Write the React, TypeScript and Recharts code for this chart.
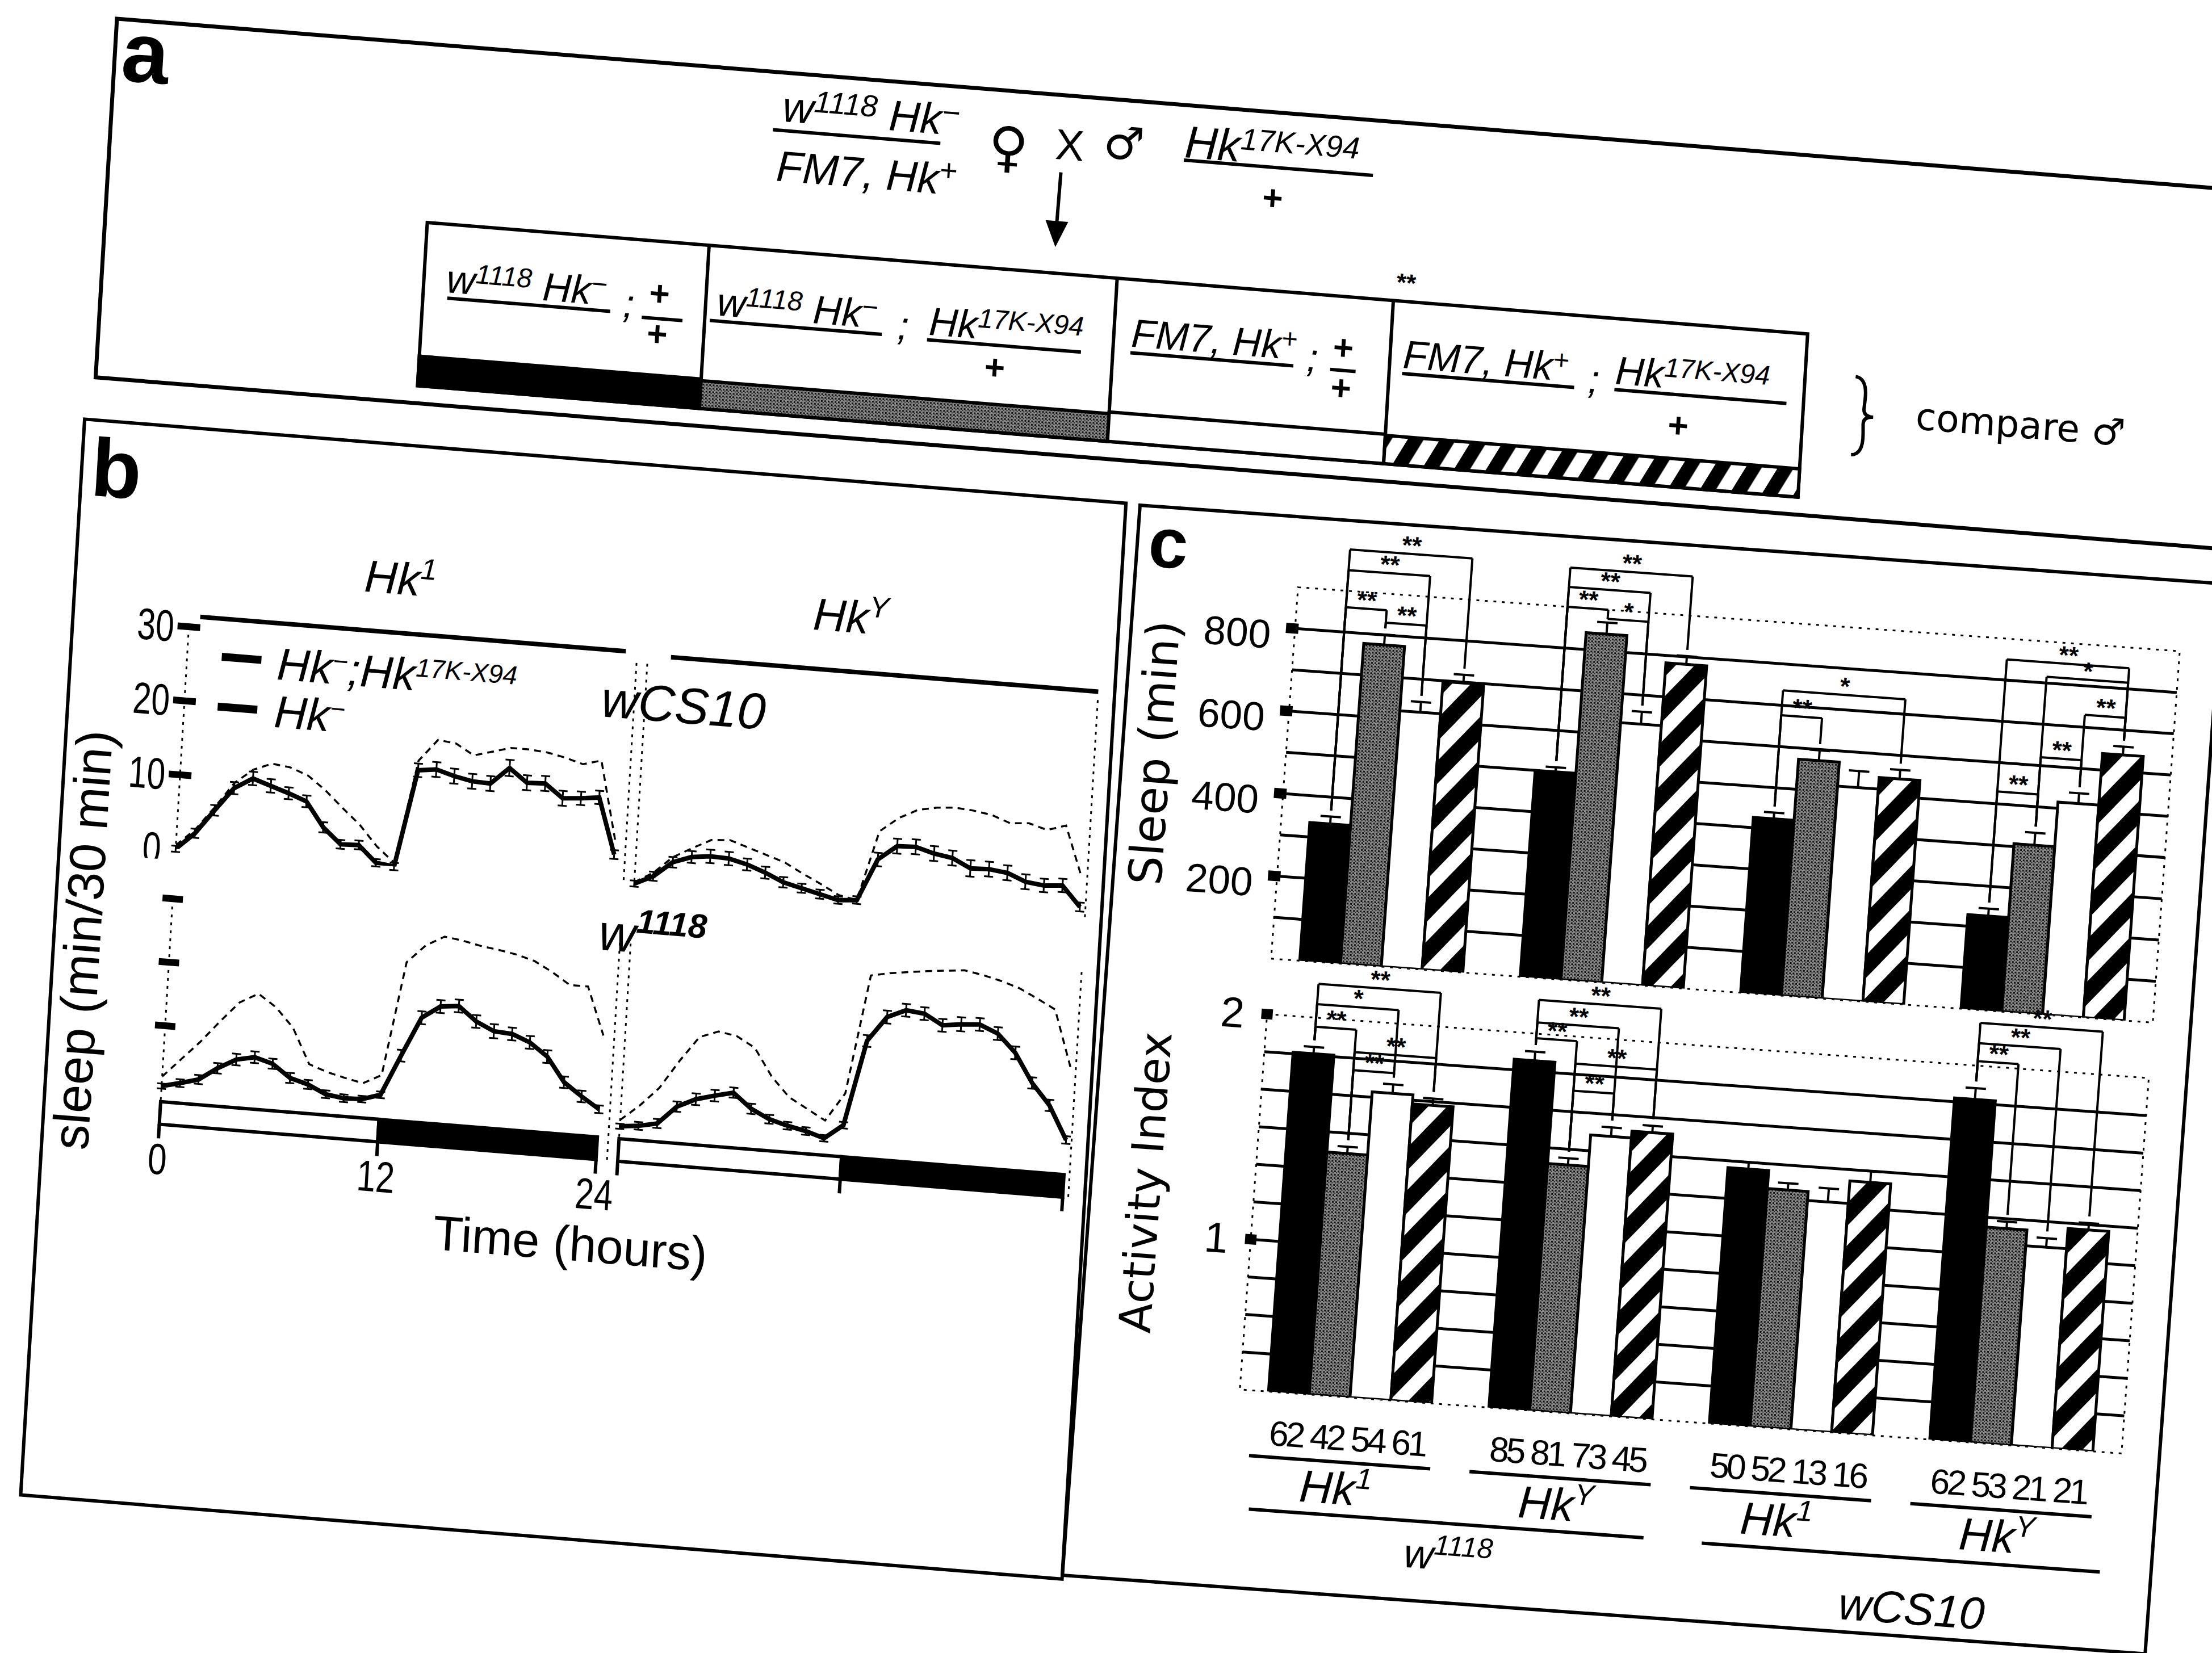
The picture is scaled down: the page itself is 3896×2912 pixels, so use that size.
import React from "react";
import {
  LineChart, Line, XAxis, YAxis, ReferenceArea, ErrorBar,
  BarChart, Bar, CartesianGrid, ReferenceLine, ReferenceDot, LabelList,
} from "recharts";

const FONT = "'Liberation Sans', Arial, Helvetica, sans-serif";
const WIDE = "'DejaVu Sans', Verdana, sans-serif";

// ---------------- panel b : sleep traces (min / 30 min), hourly reads ----------------
const HOURS = [0, 1, 2, 3, 4, 5, 6, 7, 8, 9, 10, 11, 12, 13, 14, 15, 16, 17, 18, 19, 20, 21, 22, 23, 24];
const WCS_HK1_HKMINUS = [0, 2.3, 5.6, 8.8, 10.3, 9.5, 8.7, 7.8, 4.5, 2.4, 2.5, 0.3, 0, 13.2, 13.5, 12.8, 12.3, 12.2, 14.5, 12.7, 12.8, 11.0, 11.2, 11.5, 4];
const WCS_HK1_RESCUE = [0.5, 2.8, 6, 9.5, 11.5, 12.5, 12.2, 11.3, 9.5, 7.3, 5.2, 2.5, 0.5, 14.5, 17.5, 17.2, 15.8, 16.5, 17.2, 17.2, 17, 16.5, 15.8, 16.5, 6];
const WCS_HKY_HKMINUS = [0.3, 1.5, 3.6, 4.5, 4.8, 4.7, 4.1, 3.2, 2.1, 1.5, 0.9, 0.3, 0.5, 6.2, 8.2, 8.3, 7.6, 7.2, 6, 6.1, 5.8, 4.8, 4.5, 4.7, 2];
const WCS_HKY_RESCUE = [0.5, 2, 4.3, 5.7, 7, 7.2, 6.4, 5.6, 4.8, 3.5, 2.3, 1, 0.5, 10, 12, 13.3, 13.8, 14, 13.8, 13.4, 12.5, 12.7, 12, 12.8, 6];
const W_HK1_HKMINUS = [0.5, 1.2, 2.0, 4.0, 5.6, 6.2, 5.4, 3.4, 2.6, 1.3, 0.9, 1.0, 1.9, 8.3, 14.5, 16.5, 16.8, 14.6, 13.3, 13.1, 12, 10, 6.2, 4.2, 2.4];
const W_HK1_RESCUE = [2, 5, 8, 11.4, 14.6, 16.2, 14.3, 11.3, 5.8, 4.8, 4.1, 3.5, 5, 23, 25.9, 27.5, 27.1, 26.5, 26.1, 25.6, 24.8, 23.3, 21.5, 21.5, 14];
const W_HKY_HKMINUS = [0, 0.3, 0.9, 3.8, 5.2, 6.0, 6.7, 4.4, 3.0, 2.2, 1.6, 0.7, 3, 16.5, 20.5, 21.8, 21.5, 19.9, 20.3, 20.5, 19.3, 16.5, 12, 8.7, 3.5];
const W_HKY_RESCUE = [1, 3.5, 6.5, 11, 15, 16.1, 15.6, 14, 9.7, 6.7, 5.1, 3.5, 8, 26.8, 27.4, 27.8, 28.2, 28.5, 28.8, 28.3, 27.6, 26.7, 25.3, 23.8, 15];
const TRACE_SEM = [0.4, 0.6, 0.7, 0.8, 0.9, 0.9, 0.8, 0.8, 0.7, 0.6, 0.6, 0.5, 0.5, 0.9, 1.0, 1.0, 1.0, 1.0, 1.1, 1.0, 1.0, 1.0, 0.9, 0.9, 0.6];
const HOUR_TICKS = [0, 12, 24];
const TOP_TICKS = [0, 10, 20, 30];
const LOW_TICKS = [10, 20, 30];
const LD_TOP = -1.96;
const LD_BOTTOM = -5.5;

// ---------------- panel c : bars ----------------
const GROUPS = ["w1118 Hk1", "w1118 HkY", "wCS10 Hk1", "wCS10 HkY"];
const GROUP_POS = [0.5, 1.5, 2.5, 3.5];
const GROUP_ALLELE = ["1", "Y", "1", "Y"];
const SLEEP_HKMINUS = [335, 495, 425, 228];
const SLEEP_RESCUE = [776, 841, 573, 407];
const SLEEP_FM7 = [620, 630, 515, 515];
const SLEEP_FM7_RESCUE = [698, 782, 543, 640];
const SLEEP_SEM_HKMINUS = [18, 16, 15, 18];
const SLEEP_SEM_RESCUE = [25, 28, 25, 30];
const SLEEP_SEM_FM7 = [25, 30, 40, 25];
const SLEEP_SEM_FM7_RESCUE = [20, 20, 22, 20];
const ACT_HKMINUS = [1.84, 1.88, 1.47, 1.85];
const ACT_RESCUE = [1.41, 1.43, 1.39, 1.29];
const ACT_FM7 = [1.69, 1.57, 1.35, 1.22];
const ACT_FM7_RESCUE = [1.65, 1.6, 1.45, 1.31];
const ACT_SEM_HKMINUS = [0.03, 0.04, 0.03, 0.05];
const ACT_SEM_RESCUE = [0.03, 0.03, 0.03, 0.03];
const ACT_SEM_FM7 = [0.04, 0.04, 0.06, 0.04];
const ACT_SEM_FM7_RESCUE = [0.03, 0.03, 0.05, 0.03];
const N_HKMINUS = [62, 85, 50, 62];
const N_RESCUE = [42, 81, 52, 53];
const N_FM7 = [54, 73, 13, 21];
const N_FM7_RESCUE = [61, 45, 16, 21];
const SLEEP_TICKS = [100, 200, 300, 400, 500, 600, 700, 800];
const ACT_TICKS = [0.5, 0.6667, 0.8333, 1, 1.1667, 1.3333, 1.5, 1.6667, 1.8333, 2];
const ACT_GRID = [0.5, 0.6667, 0.8333, 1, 1.1667, 1.3333, 1.5, 1.6667, 1.8333];

// significance brackets: group, bar a, bar b, level, text
const SLEEP_BRACKETS = [
  { g: 0, a: 0, b: 3, y: 1000, t: "**" },
  { g: 0, a: 0, b: 2, y: 950, t: "**" },
  { g: 0, a: 0, b: 1, y: 860, t: "**" },
  { g: 0, a: 1, b: 2, y: 830, t: "**" },
  { g: 1, a: 0, b: 3, y: 995, t: "**" },
  { g: 1, a: 0, b: 2, y: 948, t: "**" },
  { g: 1, a: 0, b: 1, y: 900, t: "**" },
  { g: 1, a: 1, b: 2, y: 878, t: "*" },
  { g: 2, a: 0, b: 3, y: 736, t: "*" },
  { g: 2, a: 0, b: 1, y: 676, t: "**" },
  { g: 3, a: 0, b: 3, y: 850, t: "**" },
  { g: 3, a: 1, b: 3, y: 815, t: "*" },
  { g: 3, a: 2, b: 3, y: 730, t: "**" },
  { g: 3, a: 1, b: 2, y: 620, t: "**" },
  { g: 3, a: 0, b: 1, y: 530, t: "**" },
];
const ACT_BRACKETS = [
  { g: 0, a: 0, b: 3, y: 2.15, t: "**" },
  { g: 0, a: 0, b: 2, y: 2.06, t: "*" },
  { g: 0, a: 0, b: 1, y: 1.96, t: "**" },
  { g: 0, a: 1, b: 3, y: 1.86, t: "**" },
  { g: 0, a: 1, b: 2, y: 1.78, t: "**" },
  { g: 1, a: 0, b: 3, y: 2.15, t: "**" },
  { g: 1, a: 0, b: 2, y: 2.05, t: "**" },
  { g: 1, a: 0, b: 1, y: 1.98, t: "**" },
  { g: 1, a: 1, b: 3, y: 1.88, t: "**" },
  { g: 1, a: 1, b: 2, y: 1.76, t: "**" },
  { g: 3, a: 0, b: 3, y: 2.19, t: "**" },
  { g: 3, a: 0, b: 2, y: 2.1, t: "**" },
  { g: 3, a: 0, b: 1, y: 2.02, t: "**" },
];

const CAT_GAP = 0.13;
const BAR_FRAC = (1 - 2 * CAT_GAP) / 4;
const barX = (g: number, j: number) => GROUP_POS[g] + (j - 1.5) * BAR_FRAC;

const mkTrace = (mut: number[], res: number[]) =>
  HOURS.map((h, i) => ({ h, mut: mut[i], res: res[i], sem: TRACE_SEM[i] }));

const SLEEP_ROWS = GROUPS.map((g, i) => ({
  g, pos: GROUP_POS[i],
  s0: SLEEP_HKMINUS[i], s1: SLEEP_RESCUE[i], s2: SLEEP_FM7[i], s3: SLEEP_FM7_RESCUE[i],
  e0: [0, SLEEP_SEM_HKMINUS[i]], e1: [0, SLEEP_SEM_RESCUE[i]], e2: [0, SLEEP_SEM_FM7[i]], e3: [0, SLEEP_SEM_FM7_RESCUE[i]],
}));
const SLEEP_COLS = [SLEEP_HKMINUS, SLEEP_RESCUE, SLEEP_FM7, SLEEP_FM7_RESCUE];
const SLEEP_SEMS = [SLEEP_SEM_HKMINUS, SLEEP_SEM_RESCUE, SLEEP_SEM_FM7, SLEEP_SEM_FM7_RESCUE];

const ACT_ROWS = GROUPS.map((g, i) => ({
  g, pos: GROUP_POS[i],
  s0: ACT_HKMINUS[i], s1: ACT_RESCUE[i], s2: ACT_FM7[i], s3: ACT_FM7_RESCUE[i],
  e0: [0, ACT_SEM_HKMINUS[i]], e1: [0, ACT_SEM_RESCUE[i]], e2: [0, ACT_SEM_FM7[i]], e3: [0, ACT_SEM_FM7_RESCUE[i]],
  n0: N_HKMINUS[i], n1: N_RESCUE[i], n2: N_FM7[i], n3: N_FM7_RESCUE[i],
}));
const ACT_COLS = [ACT_HKMINUS, ACT_RESCUE, ACT_FM7, ACT_FM7_RESCUE];
const ACT_SEMS = [ACT_SEM_HKMINUS, ACT_SEM_RESCUE, ACT_SEM_FM7, ACT_SEM_FM7_RESCUE];

const BAR_FILLS = ["#000", "url(#stipple)", "#fff", "url(#hatchC)"];

// ---------------- helpers ----------------
type Seg = [string, boolean];
function Rich(props: {
  x: number; y: number; size: number; sup: number; rise: number; segs: Seg[];
  italic?: boolean; family?: string; supWeight?: number; anchor?: string;
}) {
  const { x, y, size, sup, rise, segs, italic = true, family = FONT, supWeight = 400, anchor = "start" } = props;
  let cur = 0;
  return (
    <text x={x} y={y} fontSize={size} fontFamily={family} fontStyle={italic ? "italic" : "normal"}
      textAnchor={anchor as any} fill="#000">
      {segs.map(([t, s], i) => {
        const target = s ? -rise : 0;
        const dy = target - cur;
        cur = target;
        return (
          <tspan key={i} dy={dy} fontSize={s ? sup : size} fontWeight={s ? supWeight : 400}>{t}</tspan>
        );
      })}
    </text>
  );
}

const Ln = (x1: number, y1: number, x2: number, y2: number, w = 6, k?: string) => (
  <line key={k} x1={x1} y1={y1} x2={x2} y2={y2} stroke="#000" strokeWidth={w} />
);

const LabeledTraceTick = (p: any) => {
  const { x, y, payload } = p;
  return (
    <g>
      {payload.value > 0 ? <rect x={x - 20} y={y - 6} width={40} height={12} fill="#000" /> : null}
      <text transform={`translate(${x - 26},${y + 28}) scale(0.75,1)`} textAnchor="end"
        fontSize={78} fontFamily={FONT} fill="#000">{payload.value}</text>
    </g>
  );
};
const DashTraceTick = (p: any) => (
  <rect x={p.x - 18} y={p.y - 6} width={36} height={12} fill="#000" />
);
const HourTick = (p: any) => (
  <text transform={`translate(${p.x},${p.y + 55}) scale(0.78,1)`} textAnchor="middle"
    fontSize={77} fontFamily={FONT} fill="#000">{p.payload.value}</text>
);
const EmptyTick = () => <g />;

function TraceChart(props: {
  data: any[]; width: number; height: number; leftW: number; xMax: number;
  yMin: number; tickMode: string; bottom: boolean; hourLabels: boolean; top: number;
}) {
  const { data, width, height, leftW, xMax, yMin, tickMode, bottom, hourLabels, top } = props;
  const dotted = { stroke: "#000", strokeWidth: 3, strokeDasharray: "5 9" };
  const yTicks = tickMode === "labels" ? TOP_TICKS : LOW_TICKS;
  return (
    <LineChart width={width} height={height} data={data}
      margin={{ top, right: 0, bottom: bottom ? 0 : 20, left: 0 }}>
      <XAxis dataKey="h" type="number" domain={[0, xMax]} ticks={HOUR_TICKS} interval={0} allowDataOverflow
        hide={!bottom} height={110} axisLine={false} tickLine={{ stroke: "#000", strokeWidth: 6 }}
        tickSize={25} tickMargin={8} tick={hourLabels ? HourTick : EmptyTick} />
      <YAxis yAxisId="l" width={leftW} type="number" domain={[yMin, 30]} allowDataOverflow ticks={yTicks}
        interval={0} axisLine={dotted} tickLine={false} tickSize={0} tickMargin={0}
        tick={tickMode === "labels" ? LabeledTraceTick : tickMode === "dash" ? DashTraceTick : false} />
      <YAxis yAxisId="r" orientation="right" width={20} type="number" domain={[yMin, 30]} allowDataOverflow
        axisLine={dotted} tickLine={false} tick={false} />
      {bottom ? (
        <ReferenceArea yAxisId="l" x1={0} x2={12} y1={LD_BOTTOM} y2={LD_TOP} fill="#fff" fillOpacity={1}
          stroke="#000" strokeWidth={6} ifOverflow="visible" />
      ) : null}
      {bottom ? (
        <ReferenceArea yAxisId="l" x1={12} x2={24} y1={LD_BOTTOM} y2={LD_TOP} fill="#000" fillOpacity={1}
          stroke="#000" strokeWidth={6} ifOverflow="visible" />
      ) : null}
      <Line yAxisId="l" dataKey="res" type="linear" stroke="#000" strokeWidth={3.5} strokeDasharray="12 9"
        dot={false} isAnimationActive={false} />
      <Line yAxisId="l" dataKey="mut" type="linear" stroke="#000" strokeWidth={8} dot={false}
        isAnimationActive={false}>
        <ErrorBar dataKey="sem" width={8} strokeWidth={3} stroke="#000" direction="y" />
      </Line>
    </LineChart>
  );
}

function bracketEls(list: any[], cols: number[][], sems: number[][], gap: number, size: number, pre: string) {
  const out: any[] = [];
  list.forEach((b, i) => {
    const xa = barX(b.g, b.a);
    const xb = barX(b.g, b.b);
    const ya = cols[b.a][b.g] + sems[b.a][b.g] + gap;
    const yb = cols[b.b][b.g] + sems[b.b][b.g] + gap;
    const c = { xAxisId: "n", ifOverflow: "visible" as const, stroke: "#000", strokeWidth: 4 };
    out.push(<ReferenceLine key={`${pre}${i}a`} {...c} segment={[{ x: xa, y: ya }, { x: xa, y: b.y }]} />);
    out.push(<ReferenceLine key={`${pre}${i}b`} {...c} segment={[{ x: xa, y: b.y }, { x: xb, y: b.y }]} />);
    out.push(<ReferenceLine key={`${pre}${i}c`} {...c} segment={[{ x: xb, y: b.y }, { x: xb, y: yb }]} />);
    out.push(
      <ReferenceDot key={`${pre}${i}d`} xAxisId="n" x={(xa + xb) / 2} y={b.y} r={0} ifOverflow="visible"
        fill="none" stroke="none"
        label={{ value: b.t, position: "top", offset: 0, fontSize: size, fontWeight: 700, fill: "#000", fontFamily: FONT }} />
    );
  });
  return out;
}

const SleepTick = (p: any) => {
  const { x, y, payload } = p;
  if (payload.value % 200 !== 0) return <g />;
  return (
    <g>
      <rect x={x - 16} y={y - 9} width={22} height={18} fill="#000" />
      <text x={x - 42} y={y + 38} textAnchor="end" fontSize={71} fontFamily={FONT} fill="#000">{payload.value}</text>
    </g>
  );
};
const ActTick = (p: any) => {
  const { x, y, payload } = p;
  const v = payload.value;
  if (Math.abs(v - 1) > 0.01 && Math.abs(v - 2) > 0.01) return <g />;
  return (
    <g>
      <rect x={x - 10} y={y - 9} width={20} height={18} fill="#000" />
      <text x={x - 40} y={y + 27} textAnchor="end" fontSize={75} fontFamily={FONT} fill="#000">{Math.round(v)}</text>
    </g>
  );
};
const GroupTick = (p: any) => {
  const { x, y, payload } = p;
  const i = GROUPS.indexOf(payload.value);
  return (
    <g>
      <line x1={x - 170} x2={x + 150} y1={y + 115} y2={y + 115} stroke="#000" strokeWidth={6} />
      <Rich x={x - 14} y={y + 189} anchor="middle" size={80} sup={52} rise={30}
        segs={[["Hk", false], [GROUP_ALLELE[i], true]]} />
    </g>
  );
};

function SleepBars() {
  return (
    <BarChart width={1912} height={880} data={SLEEP_ROWS} margin={{ top: 184, right: 67, bottom: 40, left: 0 }}
      barCategoryGap="13%" barGap={0}>
      <CartesianGrid vertical={false} horizontalValues={SLEEP_TICKS} stroke="#000" strokeWidth={5} />
      <XAxis dataKey="g" hide />
      <XAxis xAxisId="n" dataKey="pos" type="number" domain={[0, 4]} hide allowDataOverflow />
      <YAxis width={288} type="number" domain={[0, 900]} ticks={SLEEP_TICKS} interval={0} allowDataOverflow
        axisLine={false} tickLine={false} tickSize={0} tickMargin={0} tick={SleepTick} />
      <ReferenceArea xAxisId="n" x1={0} x2={4} y1={0} y2={900} fill="none" stroke="#000" strokeWidth={3}
        strokeDasharray="5 10" ifOverflow="visible" />
      {[0, 1, 2, 3].map((j) => (
        <Bar key={j} dataKey={`s${j}`} fill={BAR_FILLS[j]} stroke="#000" strokeWidth={5} isAnimationActive={false}>
          <ErrorBar dataKey={`e${j}`} width={18} strokeWidth={4} stroke="#000" direction="y" />
        </Bar>
      ))}
      {bracketEls(SLEEP_BRACKETS, SLEEP_COLS, SLEEP_SEMS, 15, 44, "s")}
    </BarChart>
  );
}

function ActivityBars() {
  return (
    <BarChart width={1912} height={1141} data={ACT_ROWS} margin={{ top: 178, right: 67, bottom: 0, left: 0 }}
      barCategoryGap="13%" barGap={0}>
      <CartesianGrid vertical={false} horizontalValues={ACT_GRID} stroke="#000" strokeWidth={5} />
      <XAxis dataKey="g" height={300} axisLine={false} tickLine={false} tickSize={0} tickMargin={0}
        tick={GroupTick} interval={0} />
      <XAxis xAxisId="n" dataKey="pos" type="number" domain={[0, 4]} hide allowDataOverflow />
      <YAxis width={288} type="number" domain={[0.3333, 2]} ticks={ACT_TICKS} interval={0} allowDataOverflow
        axisLine={false} tickLine={false} tickSize={0} tickMargin={0} tick={ActTick} />
      <ReferenceArea xAxisId="n" x1={0} x2={4} y1={0.3333} y2={2} fill="none" stroke="#000" strokeWidth={3}
        strokeDasharray="5 10" ifOverflow="visible" />
      {[0, 1, 2, 3].map((j) => (
        <Bar key={j} dataKey={`s${j}`} fill={BAR_FILLS[j]} stroke="#000" strokeWidth={5} isAnimationActive={false}>
          <ErrorBar dataKey={`e${j}`} width={18} strokeWidth={4} stroke="#000" direction="y" />
          <LabelList dataKey={`n${j}`} position="bottom" offset={50} fontSize={62} fontFamily={FONT}
            fill="#000" stroke="none" letterSpacing={-5} />
        </Bar>
      ))}
      {bracketEls(ACT_BRACKETS, ACT_COLS, ACT_SEMS, 0.03, 44, "a")}
    </BarChart>
  );
}

function PanelAB() {
  const G = (x: number, y: number, segs: Seg[], size = 70, sup = 48, rise = 20) => (
    <Rich x={x} y={y} size={size} sup={sup} rise={rise} segs={segs} />
  );
  const plus = (x: number, y: number, k: string) => (
    <text key={k} x={x} y={y + 20} textAnchor="middle" fontSize={62} fontWeight={700} fontFamily={FONT} fill="#000">+</text>
  );
  const semi = (x: number, y: number) => (
    <text x={x} y={y} fontSize={70} fontStyle="italic" fontFamily={FONT} fill="#000">;</text>
  );
  return (
    <>
      <svg width={3900} height={2700} style={{ position: "absolute", left: 0, top: 0, overflow: "visible" }}>
        {/* panel a */}
        <rect x={0} y={0} width={3900} height={633} fill="none" stroke="#000" strokeWidth={7} />
        <text x={12} y={108} fontSize={150} fontWeight={700} fontFamily={FONT} fill="#000">a</text>
        <Rich x={1180} y={86} size={76} sup={54} rise={21} segs={[["w", false], ["1118", true], [" Hk", false], ["\u2212", true]]} />
        {Ln(1165, 102, 1461, 102)}
        <Rich x={1175} y={191} size={76} sup={54} rise={24} segs={[["FM7, Hk", false], ["+", true]]} />
        <text x={1581} y={132} textAnchor="middle" fontSize={96} fontFamily={WIDE} fill="#000">{"\u2640"}</text>
        <text x={1689} y={113} textAnchor="middle" fontSize={76} fontFamily={FONT} fill="#000">X</text>
        <text x={1784} y={104} textAnchor="middle" fontSize={80} fontFamily={WIDE} fontWeight={700} fill="#000">{"\u2642"}</text>
        <Rich x={1891} y={92} size={80} sup={54} rise={22} segs={[["Hk", false], ["17K-X94", true]]} />
        {Ln(1891, 97, 2225, 97)}
        {plus(2051, 152, "p0")}
        {Ln(1676, 136, 1674, 228)}
        <polygon points="1654,222 1694,222 1674,268" fill="#000" />

        <rect x={567} y={314} width={2439} height={288} fill="none" stroke="#000" strokeWidth={6} />
        {Ln(1065, 314, 1065, 602)}
        {Ln(1786, 314, 1786, 602)}
        {Ln(2274, 314, 2274, 602)}
        <rect x={567} y={550} width={498} height={52} fill="#000" stroke="#000" strokeWidth={6} />
        <rect x={1065} y={553} width={721} height={49} fill="url(#stipple)" stroke="#000" strokeWidth={6} />
        <rect x={1786} y={550} width={488} height={52} fill="#fff" stroke="#000" strokeWidth={6} />
        <rect x={2274} y={552} width={732} height={50} fill="url(#hatchA)" stroke="#000" strokeWidth={6} />

        {G(607, 434, [["w", false], ["1118", true], [" Hk", false], ["\u2212", true]])}
        {Ln(610, 444, 898, 444)}
        {semi(920, 452)}
        {plus(983, 407, "p1")}
        {Ln(954, 450, 1026, 450)}
        {plus(983, 478, "p2")}

        {G(1085, 436, [["w", false], ["1118", true], [" Hk", false], ["\u2212", true]])}
        {Ln(1074, 446, 1378, 446)}
        {semi(1405, 452)}
        {G(1460, 440, [["Hk", false], ["17K-X94", true]])}
        {Ln(1458, 449, 1730, 449)}
        {plus(1580, 489, "p3")}

        {G(1817, 432, [["FM7, Hk", false], ["+", true]])}
        {Ln(1817, 443, 2105, 443)}
        {semi(2128, 450)}
        {plus(2191, 405, "p4")}
        {Ln(2170, 444, 2215, 444)}
        {plus(2191, 476, "p5")}

        {G(2297, 431, [["FM7, Hk", false], ["+", true]])}
        {Ln(2297, 441, 2601, 441)}
        {semi(2625, 448)}
        {G(2672, 429, [["Hk", false], ["17K-X94", true]])}
        {Ln(2672, 439, 2976, 439)}
        {plus(2788, 494, "p6")}

        <text x={2295} y={296} textAnchor="middle" fontSize={44} fontWeight={700} fontFamily={FONT} fill="#000">**</text>
        <path d="M 3095 382 Q 3116 384 3114 420 L 3113 438 Q 3113 451 3130 451 Q 3113 451 3113 464 L 3114 482 Q 3116 518 3095 520"
          fill="none" stroke="#000" strokeWidth={6} />
        <text x={3205} y={466} fontSize={66} fontFamily={WIDE} fill="#000">compare {"\u2642"}</text>

        {/* panel b */}
        <rect x={-15} y={708} width={1840} height={1899} fill="none" stroke="#000" strokeWidth={6} />
        <text x={2} y={841} fontSize={145} fontWeight={700} fontFamily={FONT} fill="#000">b</text>
        <Rich x={494} y={971} size={80} sup={52} rise={30} segs={[["Hk", false], ["1", true]]} />
        {Ln(209, 1039, 961, 1039, 8)}
        <Rich x={1287} y={974} size={80} sup={52} rise={30} segs={[["Hk", false], ["Y", true]]} />
        {Ln(1041, 1043, 1796, 1043, 8)}
        <text x={923} y={1157} fontSize={90} fontStyle="italic" fontFamily={FONT} fill="#000">wCS10</text>
        <Rich x={943} y={1567} size={90} sup={60} rise={35} supWeight={700} segs={[["w", false], ["1118", true]]} />
        <rect x={251} y={1099} width={70} height={14} fill="#000" />
        <Rich x={349} y={1138} size={80} sup={46} rise={25} segs={[["Hk", false], ["\u2212", true], [";Hk", false], ["17K-X94", true]]} />
        <rect x={249} y={1187} width={70} height={14} fill="#000" />
        <Rich x={349} y={1222} size={80} sup={46} rise={25} segs={[["Hk", false], ["\u2212", true]]} />
        <text transform="translate(36,1623) rotate(-90)" textAnchor="middle" dominantBaseline="central"
          fontSize={90} fontFamily={FONT} fill="#000">sleep (min/30 min)</text>
        <text x={683} y={2117} fontSize={86} fontFamily={FONT} fill="#000">Time (hours)</text>
      </svg>

      <div style={{ position: "absolute", left: 90, top: 988 }}>
        <TraceChart data={mkTrace(WCS_HK1_HKMINUS, WCS_HK1_RESCUE)} width={911} height={482} leftW={100} top={70}
          xMax={24.6} yMin={0} tickMode="labels" bottom={false} hourLabels={false} />
      </div>
      <div style={{ position: "absolute", left: 980, top: 988 }}>
        <TraceChart data={mkTrace(WCS_HKY_HKMINUS, WCS_HKY_RESCUE)} width={836} height={482} leftW={20} top={70}
          xMax={24.3} yMin={0} tickMode="none" bottom={false} hourLabels={false} />
      </div>
      <div style={{ position: "absolute", left: 90, top: 1518 }}>
        <TraceChart data={mkTrace(W_HK1_HKMINUS, W_HK1_RESCUE)} width={911} height={528} leftW={100} top={20}
          xMax={24.6} yMin={LD_BOTTOM} tickMode="dash" bottom={true} hourLabels={true} />
      </div>
      <div style={{ position: "absolute", left: 980, top: 1518 }}>
        <TraceChart data={mkTrace(W_HKY_HKMINUS, W_HKY_RESCUE)} width={836} height={528} leftW={20} top={20}
          xMax={24.3} yMin={LD_BOTTOM} tickMode="none" bottom={true} hourLabels={false} />
      </div>
    </>
  );
}

function PanelC() {
  return (
    <>
      <svg width={1912} height={1890} style={{ position: "absolute", left: 0, top: 0, overflow: "visible" }}>
        <rect x={0} y={0} width={1912} height={1890} fill="none" stroke="#000" strokeWidth={6} />
        <text x={20} y={106} fontSize={125} fontWeight={700} fontFamily={FONT} fill="#000">c</text>
        <text transform="translate(57,433) rotate(-90)" textAnchor="middle" dominantBaseline="central"
          fontSize={81} fontFamily={WIDE} fill="#000">Sleep (min)</text>
        <text transform="translate(96,1189) rotate(-90)" textAnchor="middle" dominantBaseline="central"
          fontSize={78} fontFamily={WIDE} fill="#000">Activity Index</text>
        {Ln(319, 1750, 1016, 1750)}
        {Ln(1119, 1752, 1822, 1752)}
        <Rich x={675} y={1832} anchor="middle" size={72} sup={50} rise={26} segs={[["w", false], ["1118", true]]} />
        <text x={1496} y={1868} textAnchor="middle" fontSize={80} fontStyle="italic" fontFamily={FONT} fill="#000">wCS10</text>
      </svg>
      <div style={{ position: "absolute", left: 0, top: -60 }}>
        <SleepBars />
      </div>
      <div style={{ position: "absolute", left: 0, top: 700 }}>
        <ActivityBars />
      </div>
    </>
  );
}

export default function App() {
  return (
    <div style={{ position: "absolute", left: 0, top: 0, width: 3896, height: 2912, background: "#fff", overflow: "hidden" }}>
      <svg width={0} height={0} style={{ position: "absolute" }}>
        <defs>
          <pattern id="stipple" patternUnits="userSpaceOnUse" width={6} height={6}>
            <rect width={6} height={6} fill="#8a8a8a" />
            <rect x={0} y={0} width={3} height={3} fill="#111" />
            <rect x={3} y={3} width={2} height={2} fill="#222" />
          </pattern>
          <pattern id="hatchC" patternUnits="userSpaceOnUse" width={52} height={52} patternTransform="rotate(40)">
            <rect width={52} height={52} fill="#fff" />
            <rect width={28} height={52} fill="#000" />
          </pattern>
          <pattern id="hatchA" patternUnits="userSpaceOnUse" width={48} height={48} patternTransform="rotate(28)">
            <rect width={48} height={48} fill="#fff" />
            <rect width={24} height={48} fill="#000" />
          </pattern>
        </defs>
      </svg>
      <div style={{ position: "absolute", left: 206, top: 33, width: 3900, height: 2700,
        transform: "matrix(0.9968, 0.0805, -0.0593, 0.998, 0, 0)", transformOrigin: "0 0" }}>
        <PanelAB />
      </div>
      <div style={{ position: "absolute", left: 2008, top: 890, width: 1912, height: 1890,
        transform: "rotate(4.15deg)", transformOrigin: "0 0" }}>
        <PanelC />
      </div>
    </div>
  );
}
